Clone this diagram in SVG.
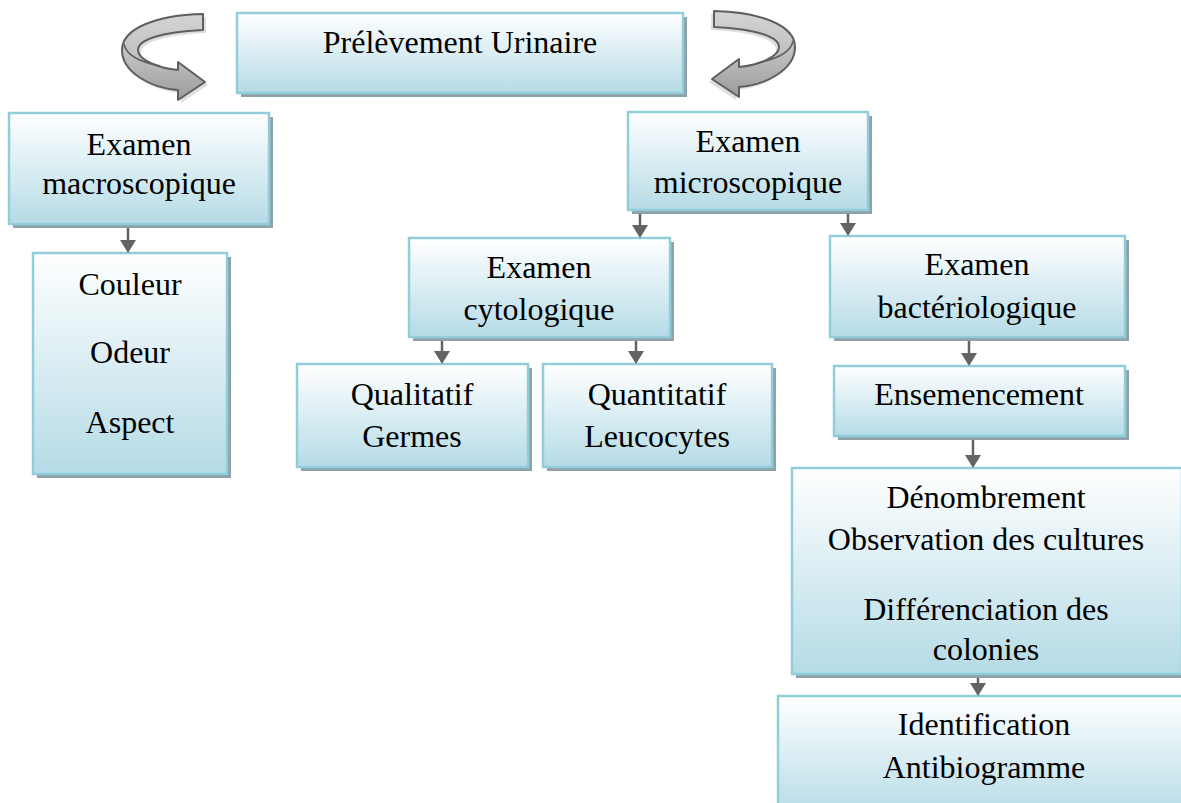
<svg xmlns="http://www.w3.org/2000/svg" width="1181" height="803" viewBox="0 0 1181 803">
<defs>
<linearGradient id="boxGrad" x1="0" y1="0" x2="0" y2="1">
<stop offset="0" stop-color="#ffffff"/>
<stop offset="0.45" stop-color="#deeff4"/>
<stop offset="1" stop-color="#b5dbe6"/>
</linearGradient>
<linearGradient id="arrowGrad" x1="0" y1="0" x2="0" y2="1">
<stop offset="0" stop-color="#d4d4d4"/>
<stop offset="0.5" stop-color="#c0c0c0"/>
<stop offset="1" stop-color="#9a9a9a"/>
</linearGradient>
<marker id="head" viewBox="0 0 13 16" refX="5" refY="8" markerWidth="13" markerHeight="16" markerUnits="userSpaceOnUse" orient="auto">
<path d="M0,0 L13,8 L0,16 Z" fill="#636363"/>
</marker>
<symbol id="curl" overflow="visible">
<path d="M206,17 C158,18 125,32 125,53 C125,75 153,91 181,93 L181,103 L208,85 L181,65 L181,73 C161,71 141,63 141,53 C141,43 163,35 206,33 Z" fill="#c8c8c8" opacity="0.6"/>
<path d="M203,14 C155,15 122,29 122,50 C122,72 150,88 178,90 L178,100 L205,82 L178,62 L178,70 C158,68 138,60 138,50 C138,40 160,32 203,30 Z" fill="url(#arrowGrad)" stroke="#5f5f5f" stroke-width="2" stroke-linejoin="round"/>
<path d="M124,44 C126,55 140,62 160,66" fill="none" stroke="#5f5f5f" stroke-width="1.5"/>
</symbol>
<style>
.box{fill:url(#boxGrad);stroke:#92cddc;stroke-width:2.5}
.shadow{fill:#8fa2a9}
.t{font-family:"Liberation Serif","Times New Roman",serif;font-size:32px;fill:#000;text-anchor:middle}
.conn{stroke:#636363;stroke-width:2.5;fill:none}
</style>
</defs>
<rect width="1181" height="803" fill="#ffffff"/>

<g id="curl-left"><use href="#curl"/></g>
<g id="curl-right" transform="translate(917,-3) scale(-1,1)"><use href="#curl"/></g>

<g id="prelevement">
<rect class="shadow" x="241" y="17" width="446" height="80"/>
<rect class="box" x="237" y="13" width="446" height="80"/>
<text class="t" x="460" y="53">Prélèvement Urinaire</text>
</g>

<g id="macro">
<rect class="shadow" x="13" y="117" width="260" height="111"/>
<rect class="box" x="9" y="113" width="260" height="111"/>
<text class="t" x="139" y="155">Examen</text>
<text class="t" x="139" y="194">macroscopique</text>
</g>

<g id="couleur">
<rect class="shadow" x="37" y="257" width="194" height="221"/>
<rect class="box" x="33" y="253" width="194" height="221"/>
<text class="t" x="130" y="295">Couleur</text>
<text class="t" x="130" y="363">Odeur</text>
<text class="t" x="130" y="433">Aspect</text>
</g>

<g id="micro">
<rect class="shadow" x="632" y="116" width="240" height="98"/>
<rect class="box" x="628" y="112" width="240" height="98"/>
<text class="t" x="748" y="152">Examen</text>
<text class="t" x="748" y="193">microscopique</text>
</g>

<g id="cyto">
<rect class="shadow" x="413" y="242" width="261" height="99"/>
<rect class="box" x="409" y="238" width="261" height="99"/>
<text class="t" x="539" y="278">Examen</text>
<text class="t" x="539" y="320">cytologique</text>
</g>

<g id="qualitatif">
<rect class="shadow" x="301" y="368" width="231" height="103"/>
<rect class="box" x="297" y="364" width="231" height="103"/>
<text class="t" x="412" y="405">Qualitatif</text>
<text class="t" x="412" y="447">Germes</text>
</g>

<g id="quantitatif">
<rect class="shadow" x="547" y="368" width="229" height="103"/>
<rect class="box" x="543" y="364" width="229" height="103"/>
<text class="t" x="657" y="405">Quantitatif</text>
<text class="t" x="657" y="447">Leucocytes</text>
</g>

<g id="bacterio">
<rect class="shadow" x="834" y="240" width="295" height="101"/>
<rect class="box" x="830" y="236" width="295" height="101"/>
<text class="t" x="977" y="275">Examen</text>
<text class="t" x="977" y="318">bactériologique</text>
</g>

<g id="ensemencement">
<rect class="shadow" x="838" y="370" width="291" height="70"/>
<rect class="box" x="834" y="366" width="291" height="70"/>
<text class="t" x="979" y="405">Ensemencement</text>
</g>

<g id="denombrement">
<rect class="shadow" x="796" y="472" width="390" height="206"/>
<rect class="box" x="792" y="468" width="390" height="206"/>
<text class="t" x="986" y="508">Dénombrement</text>
<text class="t" x="986" y="550">Observation des cultures</text>
<text class="t" x="986" y="620">Différenciation des</text>
<text class="t" x="986" y="660">colonies</text>
</g>

<g id="identification">
<rect class="shadow" x="782" y="700" width="410" height="120"/>
<rect class="box" x="778" y="696" width="410" height="120"/>
<text class="t" x="984" y="735">Identification</text>
<text class="t" x="984" y="778">Antibiogramme</text>
</g>

<g id="connectors">
<line class="conn" x1="128" y1="228" x2="128" y2="245" marker-end="url(#head)"/>
<line class="conn" x1="640" y1="214" x2="640" y2="230" marker-end="url(#head)"/>
<line class="conn" x1="848" y1="214" x2="848" y2="228" marker-end="url(#head)"/>
<line class="conn" x1="442" y1="341" x2="442" y2="356" marker-end="url(#head)"/>
<line class="conn" x1="636" y1="341" x2="636" y2="356" marker-end="url(#head)"/>
<line class="conn" x1="969" y1="341" x2="969" y2="358" marker-end="url(#head)"/>
<line class="conn" x1="973" y1="440" x2="973" y2="460" marker-end="url(#head)"/>
<line class="conn" x1="978" y1="678" x2="978" y2="688" marker-end="url(#head)"/>
</g>
</svg>
